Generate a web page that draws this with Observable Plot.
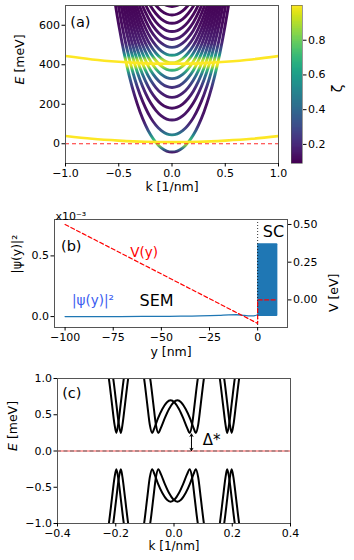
<!DOCTYPE html>
<html><head><meta charset="utf-8">
<script src="https://cdn.jsdelivr.net/npm/d3@7"></script>
<script src="https://cdn.jsdelivr.net/npm/@observablehq/plot@0.6"></script>
<style>
html,body{margin:0;padding:0;background:#fff;}
#fig{position:relative;width:354px;height:560px;overflow:hidden;background:#fff;}
</style></head><body><div id="fig"></div>
<script>
// ---------------- DATA ----------------
// Panel (a): semiconductor subbands (minima, meV) and shared dispersion
const subbandMinima = [-42, 45, 120, 180, 235, 285, 330, 372, 410, 448, 488, 528, 568, 610, 652, 695];
const kGrid = [-0.65,-0.6,-0.55,-0.5,-0.45,-0.4,-0.35,-0.3,-0.25,-0.2,-0.15,-0.1,-0.05,0,0.05,0.1,0.15,0.2,0.25,0.3,0.35,0.4,0.45,0.5,0.55,0.6,0.65];
const bandRise = [1234,1006,811,644,502,383,284,203,138,86,48,21,5,0,5,21,48,86,138,203,284,383,502,644,811,1006,1234];
// superconductor-like bands (zeta ~ 1)
const scBandK = [-1,-0.75,-0.5,-0.25,0,0.25,0.5,0.75,1];
const scBandLowE = [39,25,16,10,8,10,16,25,39];
const scBandHighE = [444,427,415,407,405,407,415,427,444];
const zetaE   = [-100,-45,-25,-5,5,20,45,80,120,200,280,320,350,375,395,410,425,445,470,510,600,700];
const zetaVal = [0.12,0.15,0.45,0.85,0.9,0.7,0.5,0.25,0.15,0.12,0.2,0.32,0.45,0.7,0.95,1.0,0.9,0.6,0.35,0.18,0.12,0.1];
const zetaDomain = [0.09, 1.0];
const zetaTicks = [0.2,0.4,0.6,0.8];
const fermiLevel = [0];
const kTicksA = [-1,-0.5,0,0.5,1];
const eTicksA = [0,200,400,600];

// Panel (b): wavefunction and potential profile
const psiY = [-100,-80,-60,-40,-30,-20,-15,-11,-7,-4,-2,0];
const psiVal = [0.000,0.000,0.001,0.003,0.005,0.010,0.014,0.015,0.010,0.006,0.006,0.015]; // x1e-3
const scRegion = [{from: 0, to: 10.5, low: 0, high: 0.6}];
const potY = [-100, 0, 0, 10];
const potV = [0.50, -0.156, 0.0, 0.0]; // eV
const interfaceY = [0];
const yTicksB = [-100,-75,-50,-25,0];
const psiTicks = [0, 0.5];
const vTicks = [0, 0.25, 0.5];

// Panel (c): spin-split Andreev bands (branch A, upper); B = mirror in k, lower = mirror in E
const branch1K = [-0.229,-0.222,-0.213,-0.204,-0.198,-0.192,-0.183,-0.174,-0.167];
const branch1E = [1.15,0.95,0.65,0.36,0.25,0.36,0.65,0.95,1.15];
const branch2K = [-0.108,-0.101,-0.092,-0.083,-0.075,-0.067,-0.055,-0.040,-0.025,-0.012,0.002,0.017,0.032,0.045,0.054,0.062,0.071,0.080,0.088];
const branch2E = [1.15,0.95,0.65,0.36,0.25,0.32,0.45,0.58,0.67,0.70,0.67,0.58,0.45,0.32,0.25,0.36,0.65,0.95,1.15];
const branch3K = [0.152,0.159,0.168,0.177,0.1825,0.189,0.198,0.207,0.214];
const branch3E = [1.15,0.95,0.65,0.36,0.25,0.36,0.65,0.95,1.15];
const gapK = 0.06, gapTop = 0.235;
const kTicksC = [-0.4,-0.2,0,0.2,0.4];
const eTicksC = [-1,-0.5,0,0.5,1];

// annotations (data units)
const annA = [{t:"(a)", k:-0.955, E:615}];
const annB = [{t:"(b)", y:-96.8, p:0.58, c:"#000", s:14.5}, {t:"SEM", y:-52.5, p:0.13, c:"#000", s:16}, {t:"SC", y:8.2, p:0.70, c:"#000", s:16}, {t:"|ψ(y)|²", y:-85.5, p:0.135, c:"#3a5cf0", s:13.5}];
const annV = [{t:"V(y)", y:-59, v:0.315}];
const annC = [{t:"(c)", k:-0.384, E:0.79, s:14.5}, {t:"Δ*", k:0.099, E:0.15, s:15}];

// ---------------- DRAW ----------------
const fig = document.getElementById("fig");
const FONT = "'DejaVu Sans', sans-serif";
const baseStyle = {fontFamily: FONT, fontSize: "11px", background: "transparent", overflow: "visible", color: "#000"};
const AX = {tickSize: 3.5, tickPadding: 2, label: null, fontSize: 11};
function place(svg, top) {
  svg.style.position = "absolute"; svg.style.left = "0px"; svg.style.top = top + "px";
  fig.appendChild(svg);
}
function italicE(svg) {
  svg.querySelectorAll("text").forEach(t => {
    if (t.textContent === "E [meV]") {
      t.textContent = "";
      const ns = "http://www.w3.org/2000/svg";
      const a = document.createElementNS(ns, "tspan"); a.setAttribute("font-style", "italic"); a.textContent = "E";
      const b = document.createElementNS(ns, "tspan"); b.textContent = " [meV]";
      t.appendChild(a); t.appendChild(b);
    }
  });
}

// colorbar (also provides the color scale)
const cbStep = 0.005;
const cbSteps = d3.range(zetaDomain[0], zetaDomain[1], cbStep);
const pCB = Plot.plot({
  width: 354, height: 200, marginTop: 5, marginBottom: 37, marginLeft: 291, marginRight: 52,
  style: baseStyle,
  x: {domain: [0, 1], axis: null},
  y: {domain: zetaDomain},
  color: {type: "linear", scheme: "viridis", domain: zetaDomain},
  marks: [
    Plot.rect(cbSteps, {x1: 0, x2: 1, y1: d => d, y2: d => Math.min(d + 2.2 * cbStep, zetaDomain[1]), fill: d => d, shapeRendering: "crispEdges"}),
    Plot.frame({stroke: "#555", strokeWidth: 0.6}),
    Plot.axisY({...AX, anchor: "right", ticks: zetaTicks, tickFormat: ".1f"}),
    Plot.text(["ζ"], {frameAnchor: "right", dx: 35, rotate: -90, text: d => d, fontSize: 14})
  ]
});
const zColor = pCB.scale("color");
const yellow = zColor.apply(1.0);

// panel (a)
const bandRows = [];
subbandMinima.forEach((e0, i) => kGrid.forEach((k, j) => bandRows.push({band: i, k, E: e0 + bandRise[j]})));
const scRows = [];
scBandK.forEach((k, i) => { scRows.push({b: "low", k, E: scBandLowE[i]}); scRows.push({b: "high", k, E: scBandHighE[i]}); });

const pA = Plot.plot({
  width: 354, height: 200, marginTop: 5, marginBottom: 37, marginLeft: 65, marginRight: 76,
  style: baseStyle,
  x: {domain: [-1, 1]}, y: {domain: [-100, 700]},
  marks: [
    Plot.line(bandRows, {x: "k", y: "E", z: "band", stroke: "url(#zetaGrad)", strokeWidth: 2.9, curve: "monotone-x", clip: true}),
    Plot.line(scRows, {x: "k", y: "E", z: "b", stroke: yellow, strokeWidth: 2.6, curve: "natural", clip: true}),
    Plot.ruleY(fermiLevel, {stroke: "#ff2a2a", strokeDasharray: "4,3", strokeWidth: 1}),
    Plot.frame({stroke: "#555"}),
    Plot.axisX({...AX, ticks: kTicksA, tickFormat: ".1f"}),
    Plot.axisY({...AX, ticks: eTicksA, tickFormat: "d"}),
    Plot.text(["k [1/nm]"], {frameAnchor: "bottom", dy: 27, text: d => d, fontSize: 12.5}),
    Plot.text(["E [meV]"], {frameAnchor: "left", dx: -46, rotate: -90, text: d => d, fontSize: 12.5}),
    Plot.text(annA, {x: "k", y: "E", text: "t", textAnchor: "start", fontSize: 14.5})
  ]
});
{
  const yA = pA.scale("y");
  const last = zetaE.length - 1;
  const defs = d3.select(pA).insert("defs", ":first-child");
  const grad = defs.append("linearGradient").attr("id", "zetaGrad").attr("gradientUnits", "userSpaceOnUse")
    .attr("x1", 0).attr("x2", 0).attr("y1", yA.apply(zetaE[0])).attr("y2", yA.apply(zetaE[last]));
  zetaE.forEach((e, i) => grad.append("stop")
    .attr("offset", (e - zetaE[0]) / (zetaE[last] - zetaE[0]))
    .attr("stop-color", zColor.apply(zetaVal[i])));
}
italicE(pA);
place(pA, 0);
place(pCB, 0);

// panel (b)
const psiRows = psiY.map((y, i) => ({y, p: psiVal[i]}));
const potRows = potY.map((y, i) => ({y, v: potV[i]}));
const xDomB = [-105.5, 15.5];
const pB1 = Plot.plot({
  width: 354, height: 165, marginTop: 19, marginBottom: 38, marginLeft: 54, marginRight: 67,
  style: baseStyle,
  x: {domain: xDomB}, y: {domain: [-0.09, 0.8]},
  marks: [
    Plot.rect(scRegion, {x1: "from", x2: "to", y1: "low", y2: "high", fill: "#1f77b4", rx: 1}),
    Plot.line(psiRows, {x: "y", y: "p", stroke: "#1f77b4", strokeWidth: 1.3, curve: "monotone-x"}),
    Plot.ruleX(interfaceY, {stroke: "#000", strokeDasharray: "1,2", strokeWidth: 0.8}),
    Plot.frame({stroke: "#555"}),
    Plot.axisX({...AX, ticks: yTicksB, tickFormat: "d"}),
    Plot.axisY({...AX, ticks: psiTicks, tickFormat: ".1f"}),
    Plot.text(["y [nm]"], {frameAnchor: "bottom", dy: 28, text: d => d, fontSize: 12.5}),
    Plot.text(["|ψ(y)|²"], {frameAnchor: "left", dx: -38, rotate: -90, text: d => d, fontSize: 12.5}),
    Plot.text(["x10⁻³"], {frameAnchor: "top-left", dx: 1, dy: -7, textAnchor: "start", text: d => d, fontSize: 11}),
    Plot.text(annB, {x: "y", y: "p", text: "t", fill: "c", fontSize: "s"})
  ]
});
place(pB1, 200);
const pB2 = Plot.plot({
  width: 354, height: 165, marginTop: 19, marginBottom: 38, marginLeft: 54, marginRight: 67,
  style: baseStyle,
  x: {domain: xDomB, axis: null}, y: {domain: [-0.183, 0.533]},
  marks: [
    Plot.line(potRows, {x: "y", y: "v", stroke: "#ff0000", strokeWidth: 1.2, strokeDasharray: "4,2.5"}),
    Plot.axisY({...AX, anchor: "right", ticks: vTicks, tickFormat: ".2f"}),
    Plot.text(["V [eV]"], {frameAnchor: "right", dx: 46, rotate: -90, text: d => d, fontSize: 12.5}),
    Plot.text(annV, {x: "y", y: "v", text: "t", fill: "#ff0000", fontSize: 13.5})
  ]
});
place(pB2, 200);

// panel (c)
const bandC = [];
[[branch1K, branch1E], [branch2K, branch2E], [branch3K, branch3E]].forEach(([ks, es], b) => {
  [1, -1].forEach(mk => [1, -1].forEach(me => {
    const id = `${b}_${mk}_${me}`;
    ks.forEach((k, i) => bandC.push({id, k: mk * k, E: me * es[i]}));
  }));
});
const groups = d3.groups(bandC, d => d.id);
const bandCSorted = groups.flatMap(([, rows]) => rows.slice().sort((a, b) => a.k - b.k));
const gapArrows = [{k: gapK, from: gapTop / 2, to: gapTop}, {k: gapK, from: gapTop / 2, to: 0.005}];
const pC = Plot.plot({
  width: 354, height: 195, marginTop: 13, marginBottom: 37, marginLeft: 57, marginRight: 64,
  style: baseStyle,
  x: {domain: [-0.4, 0.4]}, y: {domain: [-1, 1]},
  marks: [
    Plot.ruleY(fermiLevel, {stroke: "#ff4040", strokeWidth: 0.9}),
    Plot.ruleY(fermiLevel, {stroke: "#666", strokeWidth: 1.1, strokeDasharray: "4,2.5"}),
    Plot.line(bandCSorted, {x: "k", y: "E", z: "id", stroke: "#000", strokeWidth: 2.0, curve: "monotone-x", clip: true}),
    Plot.arrow(gapArrows, {x1: "k", y1: "from", x2: "k", y2: "to", stroke: "#000", strokeWidth: 1, headLength: 4.5}),
    Plot.frame({stroke: "#555"}),
    Plot.axisX({...AX, ticks: kTicksC, tickFormat: ".1f"}),
    Plot.axisY({...AX, ticks: eTicksC, tickFormat: ".1f"}),
    Plot.text(["k [1/nm]"], {frameAnchor: "bottom", dy: 26, text: d => d, fontSize: 12}),
    Plot.text(["E [meV]"], {frameAnchor: "left", dx: -45, rotate: -90, text: d => d, fontSize: 12.5}),
    Plot.text(annC, {x: "k", y: "E", text: "t", textAnchor: "start", fontSize: "s"})
  ]
});
italicE(pC);
place(pC, 365);
</script></body></html>
